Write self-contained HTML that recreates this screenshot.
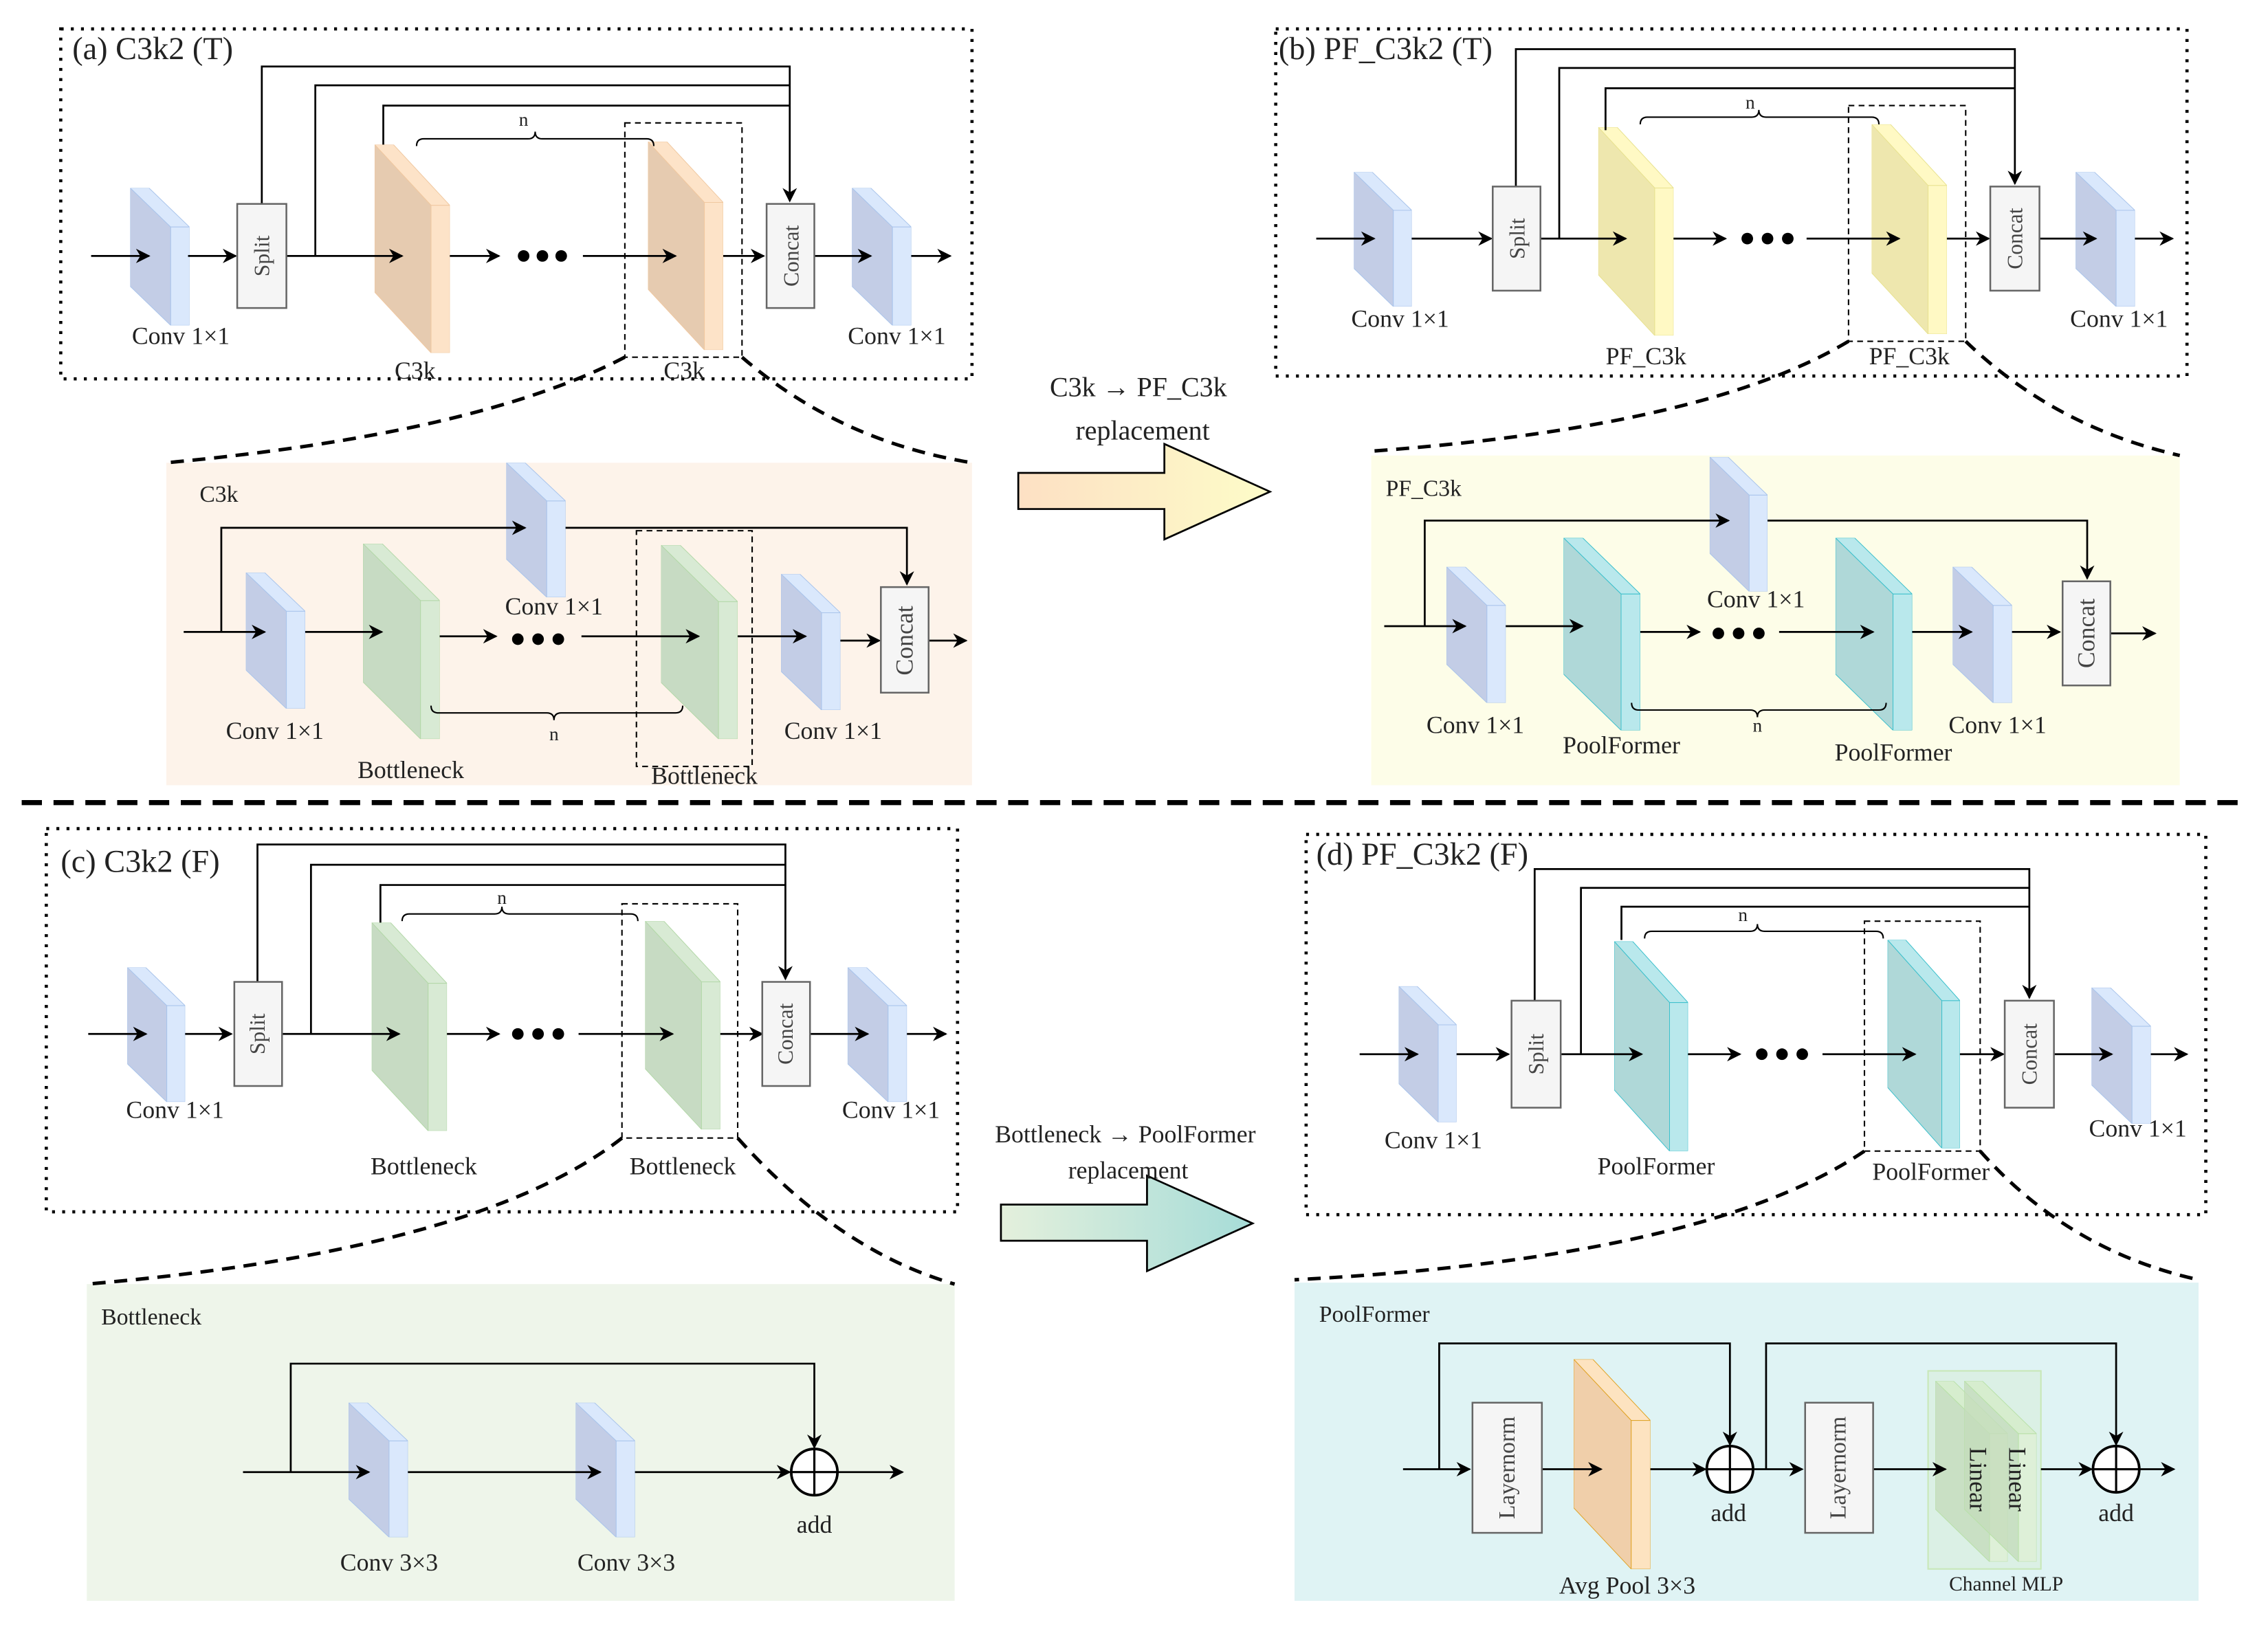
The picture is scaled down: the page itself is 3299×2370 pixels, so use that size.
<!DOCTYPE html>
<html><head><meta charset="utf-8"><style>html,body{margin:0;padding:0;background:#fff}svg{display:block}text{font-family:"Liberation Serif","Times New Roman",serif;fill:#222}</style></head><body>
<svg width="3299" height="2370" viewBox="0 0 1568 1126.5" preserveAspectRatio="none" xmlns="http://www.w3.org/2000/svg" font-family="Liberation Serif, serif">
<defs>
<marker id="ah" markerWidth="10" markerHeight="10" refX="9" refY="5" orient="auto" markerUnits="userSpaceOnUse"><path d="M0,0 L10,5 L0,10 L3,5 Z" fill="#000"/></marker>
<symbol id="conv" viewBox="0 0 41 95" preserveAspectRatio="none"><polygon points="0,0 13,0 41,27 28,27" fill="#dae8fc" stroke="#a9c4eb" vector-effect="non-scaling-stroke"/><polygon points="0,0 28,27 28,95 0,68" fill="#c3cde6" stroke="#a9c4eb" vector-effect="non-scaling-stroke"/><rect x="28" y="27" width="13" height="68" fill="#dae8fc" stroke="#a9c4eb" vector-effect="non-scaling-stroke"/></symbol>
<symbol id="tan" viewBox="0 0 52 144" preserveAspectRatio="none"><polygon points="0,0 13,0 52,42 39,42" fill="#fde3c8" stroke="#f0c8a0" vector-effect="non-scaling-stroke"/><polygon points="0,0 39,42 39,144 0,102" fill="#e6cbb0" stroke="#f0c8a0" vector-effect="non-scaling-stroke"/><rect x="39" y="42" width="13" height="102" fill="#fde3c8" stroke="#f0c8a0" vector-effect="non-scaling-stroke"/></symbol>
<symbol id="yel" viewBox="0 0 52 144" preserveAspectRatio="none"><polygon points="0,0 13,0 52,42 39,42" fill="#fff9c4" stroke="#e8e290" vector-effect="non-scaling-stroke"/><polygon points="0,0 39,42 39,144 0,102" fill="#eee7ae" stroke="#e8e290" vector-effect="non-scaling-stroke"/><rect x="39" y="42" width="13" height="102" fill="#fff9c4" stroke="#e8e290" vector-effect="non-scaling-stroke"/></symbol>
<symbol id="grn" viewBox="0 0 52 144" preserveAspectRatio="none"><polygon points="0,0 13,0 52,42 39,42" fill="#d8ead4" stroke="#b3d8a8" vector-effect="non-scaling-stroke"/><polygon points="0,0 39,42 39,144 0,102" fill="#c7dbc3" stroke="#b3d8a8" vector-effect="non-scaling-stroke"/><rect x="39" y="42" width="13" height="102" fill="#d8ead4" stroke="#b3d8a8" vector-effect="non-scaling-stroke"/></symbol>
<symbol id="teal" viewBox="0 0 52 144" preserveAspectRatio="none"><polygon points="0,0 13,0 52,42 39,42" fill="#b9e8ec" stroke="#3cc0cc" vector-effect="non-scaling-stroke"/><polygon points="0,0 39,42 39,144 0,102" fill="#afd8d8" stroke="#3cc0cc" vector-effect="non-scaling-stroke"/><rect x="39" y="42" width="13" height="102" fill="#b9e8ec" stroke="#3cc0cc" vector-effect="non-scaling-stroke"/></symbol>
<symbol id="org" viewBox="0 0 52 144" preserveAspectRatio="none"><polygon points="0,0 13,0 52,42 39,42" fill="#fde3c0" stroke="#e0a428" vector-effect="non-scaling-stroke"/><polygon points="0,0 39,42 39,144 0,102" fill="#f0cfaa" stroke="#e0a428" vector-effect="non-scaling-stroke"/><rect x="39" y="42" width="13" height="102" fill="#fde3c0" stroke="#e0a428" vector-effect="non-scaling-stroke"/></symbol>
<symbol id="lin" viewBox="0 0 52 144" preserveAspectRatio="none"><polygon points="0,0 13,0 52,42 39,42" fill="#d5ecc8" fill-opacity="0.8" stroke="#b8e0a8" vector-effect="non-scaling-stroke"/><polygon points="0,0 39,42 39,144 0,102" fill="#c4dcbc" fill-opacity="0.8" stroke="#b8e0a8" vector-effect="non-scaling-stroke"/><rect x="39" y="42" width="13" height="102" fill="#dff0d4" fill-opacity="0.8" stroke="#b8e0a8" vector-effect="non-scaling-stroke"/></symbol>
<linearGradient id="g1" x1="0" x2="1" y1="0" y2="0"><stop offset="0" stop-color="#fde0c4"/><stop offset="1" stop-color="#fdfcc8"/></linearGradient>
<linearGradient id="g2" x1="0" x2="1" y1="0" y2="0"><stop offset="0" stop-color="#e4f0dc"/><stop offset="1" stop-color="#a6dcd8"/></linearGradient>
</defs>
<!-- backgrounds -->
<rect x="115" y="320" width="557" height="223" fill="#fdf3ea"/>
<rect x="948" y="315" width="559" height="228" fill="#fdfde8"/>
<rect x="60" y="888" width="600" height="219" fill="#eef5ea"/>
<rect x="895" y="887" width="625" height="220" fill="#dff3f4"/>

<!-- blocks -->
<use href="#conv" x="90" y="130" width="41" height="95"/><use href="#conv" x="589" y="130" width="41" height="95"/>
<use href="#tan" x="259" y="100" width="52" height="144"/><use href="#tan" x="448" y="98" width="52" height="144"/>
<use href="#conv" x="350" y="320" width="41" height="93"/><use href="#conv" x="170" y="396" width="41" height="94"/>
<use href="#grn" x="251" y="376" width="53" height="135"/><use href="#grn" x="457" y="377" width="53" height="134"/>
<use href="#conv" x="540" y="397" width="41" height="94"/>
<use href="#conv" x="936" y="119" width="40" height="93"/><use href="#conv" x="1435" y="119" width="41" height="93"/>
<use href="#yel" x="1105" y="88" width="52" height="144"/><use href="#yel" x="1294" y="86" width="52" height="145"/>
<use href="#conv" x="1182" y="316" width="40" height="93"/><use href="#conv" x="1000" y="392" width="41" height="94"/>
<use href="#teal" x="1081" y="372" width="53" height="133"/><use href="#teal" x="1269" y="372" width="53" height="133"/>
<use href="#conv" x="1350" y="392" width="41" height="94"/>
<use href="#conv" x="88" y="669" width="40" height="93"/><use href="#conv" x="586" y="669" width="41" height="93"/>
<use href="#grn" x="257" y="638" width="52" height="144"/><use href="#grn" x="446" y="637" width="52" height="144"/>
<use href="#conv" x="241" y="970" width="41" height="93"/><use href="#conv" x="398" y="970" width="41" height="93"/>
<use href="#conv" x="967" y="682" width="40" height="94"/><use href="#conv" x="1446" y="683" width="41" height="94"/>
<use href="#teal" x="1116" y="651" width="51" height="145"/><use href="#teal" x="1305" y="650" width="50" height="144"/>
<use href="#org" x="1088" y="940" width="53" height="145"/>
<rect x="1333" y="948" width="78" height="137" fill="#d5ecc8" fill-opacity="0.35" stroke="#c8e8b8"/>
<use href="#lin" x="1338" y="955" width="50" height="125"/><use href="#lin" x="1358" y="955" width="50" height="125"/>

<g fill="none" stroke="#000" stroke-width="1.3">
<!-- dotted outer boxes -->
<g stroke-width="2.2" stroke-dasharray="2,5">
<rect x="42" y="20" width="630" height="242"/><rect x="882" y="20" width="630" height="240"/>
<rect x="32" y="573" width="630" height="265"/><rect x="903" y="577" width="622" height="263"/></g>
<!-- zoom dashed lines -->
<g stroke-width="2.4" stroke-dasharray="9,6">
<path d="M432,247 Q330,300 115,320"/><path d="M513,247 Q580,305 672,320"/>
<path d="M1278,236 Q1180,295 948,312"/><path d="M1359,236 Q1420,295 1507,315"/>
<path d="M430,787 Q330,865 60,888"/><path d="M510,787 Q580,865 660,888"/>
<path d="M1289,796 Q1180,870 895,885"/><path d="M1369,796 Q1430,865 1520,885"/>
<path d="M15,555 H1555" stroke-width="3.5" stroke-dasharray="14,8"/></g>
<!-- inner dashed boxes -->
<g stroke-width="1" stroke-dasharray="4,3">
<rect x="432" y="85" width="81" height="162"/><rect x="440" y="367" width="80" height="163"/>
<rect x="1278" y="73" width="81" height="163"/><rect x="430" y="625" width="80" height="162"/>
<rect x="1289" y="637" width="80" height="159"/></g>

<!-- ===== (a) ===== -->
<path d="M181,141 V46 H546 V139" marker-end="url(#ah)"/><path d="M218,177 V59 H546"/><path d="M265,100 V73 H546"/>
<path d="M63,177 H103" marker-end="url(#ah)"/><path d="M130,177 H163" marker-end="url(#ah)"/>
<path d="M198,177 H278" marker-end="url(#ah)"/><path d="M311,177 H345" marker-end="url(#ah)"/>
<path d="M403,177 H467" marker-end="url(#ah)"/><path d="M500,177 H528" marker-end="url(#ah)"/>
<path d="M563,177 H602" marker-end="url(#ah)"/><path d="M630,177 H657" marker-end="url(#ah)"/>
<path d="M288,101 Q288,96 293,96 L365,96 Q370,96 370,91 Q370,96 375,96 L447,96 Q452,96 452,101" stroke-width="1"/>
<!-- C3k panel -->
<path d="M127,437 H183" marker-end="url(#ah)"/><path d="M153,437 V365 H363" marker-end="url(#ah)"/>
<path d="M391,365 H627 V404" marker-end="url(#ah)"/><path d="M211,437 H264" marker-end="url(#ah)"/>
<path d="M304,440 H343" marker-end="url(#ah)"/><path d="M402,440 H483" marker-end="url(#ah)"/>
<path d="M510,440 H557" marker-end="url(#ah)"/><path d="M581,443 H608" marker-end="url(#ah)"/>
<path d="M642,443 H668" marker-end="url(#ah)"/>
<path d="M298,488 Q298,493 303,493 L378,493 Q383,493 383,498 Q383,493 388,493 L467,493 Q472,493 472,488" stroke-width="1"/>

<!-- ===== (b) ===== -->
<path d="M1048,129 V34 H1393 V127" marker-end="url(#ah)"/><path d="M1078,165 V47 H1393"/><path d="M1110,90 V61 H1393"/>
<path d="M910,165 H950" marker-end="url(#ah)"/><path d="M976,165 H1031" marker-end="url(#ah)"/>
<path d="M1065,165 H1124" marker-end="url(#ah)"/><path d="M1157,165 H1193" marker-end="url(#ah)"/>
<path d="M1249,165 H1313" marker-end="url(#ah)"/><path d="M1346,165 H1375" marker-end="url(#ah)"/>
<path d="M1410,165 H1449" marker-end="url(#ah)"/><path d="M1476,165 H1502" marker-end="url(#ah)"/>
<path d="M1134,86 Q1134,81 1139,81 L1211,81 Q1216,81 1216,76 Q1216,81 1221,81 L1294,81 Q1299,81 1299,86" stroke-width="1"/>
<path d="M957,433 H1013" marker-end="url(#ah)"/><path d="M985,433 V360 H1195" marker-end="url(#ah)"/>
<path d="M1222,360 H1443 V400" marker-end="url(#ah)"/><path d="M1041,433 H1094" marker-end="url(#ah)"/>
<path d="M1134,437 H1175" marker-end="url(#ah)"/><path d="M1230,437 H1295" marker-end="url(#ah)"/>
<path d="M1322,437 H1363" marker-end="url(#ah)"/><path d="M1391,437 H1424" marker-end="url(#ah)"/>
<path d="M1459,438 H1490" marker-end="url(#ah)"/>
<path d="M1128,486 Q1128,491 1133,491 L1210,491 Q1215,491 1215,496 Q1215,491 1220,491 L1299,491 Q1304,491 1304,486" stroke-width="1"/>

<!-- ===== (c) ===== -->
<path d="M178,679 V584 H543 V677" marker-end="url(#ah)"/><path d="M215,715 V598 H543"/><path d="M263,638 V612 H543"/>
<path d="M61,715 H101" marker-end="url(#ah)"/><path d="M128,715 H160" marker-end="url(#ah)"/>
<path d="M195,715 H276" marker-end="url(#ah)"/><path d="M309,715 H345" marker-end="url(#ah)"/>
<path d="M400,715 H465" marker-end="url(#ah)"/><path d="M498,715 H527" marker-end="url(#ah)"/>
<path d="M560,715 H600" marker-end="url(#ah)"/><path d="M627,715 H654" marker-end="url(#ah)"/>
<path d="M278,637 Q278,632 283,632 L342,632 Q347,632 347,627 Q347,632 352,632 L436,632 Q441,632 441,637" stroke-width="1"/>
<path d="M168,1018 H255" marker-end="url(#ah)"/><path d="M201,1018 V943 H563 V1001" marker-end="url(#ah)"/>
<path d="M282,1018 H415" marker-end="url(#ah)"/><path d="M439,1018 H546" marker-end="url(#ah)"/>
<path d="M579,1018 H624" marker-end="url(#ah)"/>

<!-- ===== (d) ===== -->
<path d="M1061,692 V601 H1403 V690" marker-end="url(#ah)"/><path d="M1093,729 V614 H1403"/><path d="M1121,650 V627 H1403"/>
<path d="M940,729 H980" marker-end="url(#ah)"/><path d="M1007,729 H1043" marker-end="url(#ah)"/>
<path d="M1079,729 H1135" marker-end="url(#ah)"/><path d="M1167,729 H1203" marker-end="url(#ah)"/>
<path d="M1260,729 H1324" marker-end="url(#ah)"/><path d="M1355,729 H1385" marker-end="url(#ah)"/>
<path d="M1420,729 H1460" marker-end="url(#ah)"/><path d="M1487,729 H1512" marker-end="url(#ah)"/>
<path d="M1137,649 Q1137,644 1142,644 L1210,644 Q1215,644 1215,639 Q1215,644 1220,644 L1297,644 Q1302,644 1302,649" stroke-width="1"/>
<path d="M970,1016 H1016" marker-end="url(#ah)"/><path d="M995,1016 V929 H1196 V999" marker-end="url(#ah)"/>
<path d="M1066,1016 H1107" marker-end="url(#ah)"/><path d="M1141,1016 H1179" marker-end="url(#ah)"/>
<path d="M1212,1016 H1246" marker-end="url(#ah)"/><path d="M1221,1016 V929 H1463 V999" marker-end="url(#ah)"/>
<path d="M1295,1016 H1345" marker-end="url(#ah)"/><path d="M1411,1016 H1446" marker-end="url(#ah)"/>
<path d="M1479,1016 H1503" marker-end="url(#ah)"/>
</g>

<!-- rect nodes -->
<g fill="#f5f5f5" stroke="#666" stroke-width="1.2">
<rect x="164" y="141" width="34" height="72"/><rect x="530" y="141" width="33" height="72"/>
<rect x="609" y="406" width="33" height="73"/>
<rect x="1032" y="129" width="33" height="72"/><rect x="1376" y="129" width="34" height="72"/>
<rect x="1426" y="402" width="33" height="72"/>
<rect x="162" y="679" width="33" height="72"/><rect x="527" y="679" width="33" height="72"/>
<rect x="1045" y="692" width="34" height="74"/><rect x="1386" y="692" width="34" height="74"/>
<rect x="1018" y="970" width="48" height="90"/><rect x="1248" y="970" width="47" height="90"/></g>
<g fill="none" stroke="#000">
<circle cx="563" cy="1018" r="16" fill="#fff" stroke-width="1.8"/><path d="M547,1018 H579 M563,1002 V1034" stroke-width="1.5"/>
<circle cx="1196" cy="1016" r="16" fill="#fff" stroke-width="1.8"/><path d="M1180,1016 H1212 M1196,1000 V1032" stroke-width="1.5"/>
<circle cx="1463" cy="1016" r="16" fill="#fff" stroke-width="1.8"/><path d="M1447,1016 H1479 M1463,1000 V1032" stroke-width="1.5"/></g>

<!-- dots -->
<g fill="#000"><circle cx="362" cy="177" r="4"/><circle cx="375" cy="177" r="4"/><circle cx="388" cy="177" r="4"/>
<circle cx="358" cy="442" r="4"/><circle cx="372" cy="442" r="4"/><circle cx="386" cy="442" r="4"/>
<circle cx="1208" cy="165" r="4"/><circle cx="1222" cy="165" r="4"/><circle cx="1236" cy="165" r="4"/>
<circle cx="1188" cy="438" r="4"/><circle cx="1202" cy="438" r="4"/><circle cx="1216" cy="438" r="4"/>
<circle cx="358" cy="715" r="4"/><circle cx="372" cy="715" r="4"/><circle cx="386" cy="715" r="4"/>
<circle cx="1218" cy="729" r="4"/><circle cx="1232" cy="729" r="4"/><circle cx="1246" cy="729" r="4"/></g>

<!-- big arrows -->
<polygon points="704,327 805,327 805,307 878,340 805,373 805,352 704,352" fill="url(#g1)" stroke="#000" stroke-width="1.3"/>
<polygon points="692,833 793,833 793,813 866,846 793,879 793,858 692,858" fill="url(#g2)" stroke="#000" stroke-width="1.3"/>

<!-- text -->
<g font-size="22"><text x="50" y="41">(a) C3k2 (T)</text><text x="884" y="41">(b) PF_C3k2 (T)</text>
<text x="42" y="603">(c) C3k2 (F)</text><text x="910" y="598">(d) PF_C3k2 (F)</text></g>
<g font-size="17" text-anchor="middle">
<text x="125" y="238">Conv 1×1</text><text x="287" y="262">C3k</text><text x="473" y="262">C3k</text><text x="620" y="238">Conv 1×1</text>
<text x="190" y="511">Conv 1×1</text><text x="284" y="538">Bottleneck</text><text x="383" y="425">Conv 1×1</text><text x="487" y="542">Bottleneck</text><text x="576" y="511">Conv 1×1</text>
<text x="968" y="226">Conv 1×1</text><text x="1138" y="252">PF_C3k</text><text x="1320" y="252">PF_C3k</text><text x="1465" y="226">Conv 1×1</text>
<text x="1020" y="507">Conv 1×1</text><text x="1121" y="521">PoolFormer</text><text x="1214" y="420">Conv 1×1</text><text x="1309" y="526">PoolFormer</text><text x="1381" y="507">Conv 1×1</text>
<text x="121" y="773">Conv 1×1</text><text x="293" y="812">Bottleneck</text><text x="472" y="812">Bottleneck</text><text x="616" y="773">Conv 1×1</text>
<text x="269" y="1086">Conv 3×3</text><text x="433" y="1086">Conv 3×3</text><text x="563" y="1060">add</text>
<text x="991" y="794">Conv 1×1</text><text x="1145" y="812">PoolFormer</text><text x="1335" y="816">PoolFormer</text><text x="1478" y="786">Conv 1×1</text>
<text x="1195" y="1052">add</text><text x="1463" y="1052">add</text><text x="1125" y="1102">Avg Pool 3×3</text>
<text x="787" y="274" font-size="19">C3k → PF_C3k</text><text x="790" y="304" font-size="19">replacement</text>
<text x="778" y="790">Bottleneck → PoolFormer</text><text x="780" y="815">replacement</text>
</g>
<g font-size="13" text-anchor="middle"><text x="362" y="87">n</text><text x="383" y="512">n</text><text x="1210" y="75">n</text><text x="1215" y="506">n</text><text x="347" y="625">n</text><text x="1205" y="637">n</text>
<text x="1387" y="1100" font-size="14">Channel MLP</text></g>
<g font-size="16"><text x="138" y="347">C3k</text><text x="958" y="343">PF_C3k</text><text x="70" y="916">Bottleneck</text><text x="912" y="914">PoolFormer</text></g>
<g font-size="15" text-anchor="middle">
<text transform="translate(186,177) rotate(-90)" style="fill:#444">Split</text>
<text transform="translate(552,177) rotate(-90)" style="fill:#444">Concat</text>
<text transform="translate(631,443) rotate(-90)" font-size="17" style="fill:#444">Concat</text>
<text transform="translate(1054,165) rotate(-90)" style="fill:#444">Split</text>
<text transform="translate(1398,165) rotate(-90)" style="fill:#444">Concat</text>
<text transform="translate(1448,438) rotate(-90)" font-size="17" style="fill:#444">Concat</text>
<text transform="translate(183,715) rotate(-90)" style="fill:#444">Split</text>
<text transform="translate(548,715) rotate(-90)" style="fill:#444">Concat</text>
<text transform="translate(1067,729) rotate(-90)" style="fill:#444">Split</text>
<text transform="translate(1408,729) rotate(-90)" style="fill:#444">Concat</text>
<text transform="translate(1047,1015) rotate(-90)" font-size="16" style="fill:#444">Layernorm</text>
<text transform="translate(1276,1015) rotate(-90)" font-size="16" style="fill:#444">Layernorm</text>
<text transform="translate(1362,1023) rotate(90)" font-size="17" style="fill:#222">Linear</text>
<text transform="translate(1389,1023) rotate(90)" font-size="17" style="fill:#222">Linear</text>
</g>
</svg>
</body></html>
